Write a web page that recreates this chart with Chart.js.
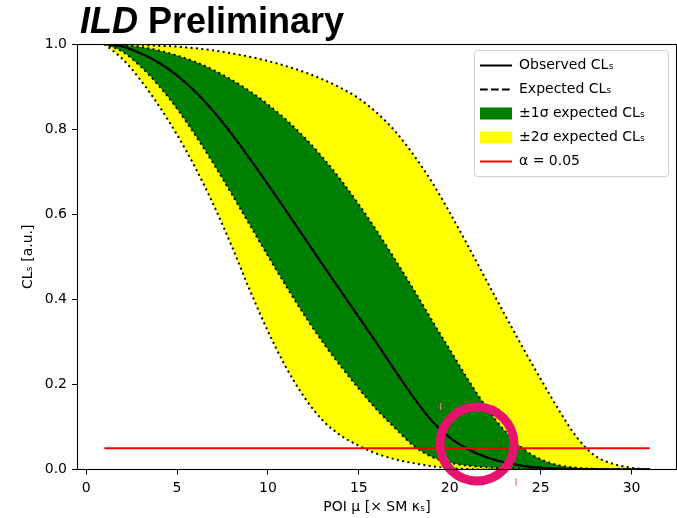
<!DOCTYPE html>
<html><head><meta charset="utf-8">
<script src="https://cdn.jsdelivr.net/npm/chart.js@4/dist/chart.umd.min.js"></script>
<style>
html,body{margin:0;padding:0;background:#fff;}
#wrap{position:relative;width:677px;height:518px;overflow:hidden;}
#title{position:absolute;left:80px;top:3px;font:bold 36px/36px "Liberation Sans",Arial,sans-serif;color:#000;white-space:nowrap;}
canvas{position:absolute;left:0;top:0;}
</style></head><body>
<div id="wrap"><canvas id="c" width="677" height="518"></canvas><div id="title"><i>ILD</i> Preliminary</div></div>
<script>
// ---- data ----
const poi = [1,2,3,4,5,6,7,8,9,10,11,12,13,14,15,16,17,18,19,20,21,22,23,24,25,26,27,28,29,30,31];
const observedCLs = [1.000,0.994,0.978,0.956,0.926,0.888,0.842,0.789,0.731,0.670,0.608,0.545,0.482,0.420,0.358,0.296,0.232,0.170,0.115,0.075,0.048,0.029,0.017,0.009,0.004,0.002,0.001,0.0004,0.0001,0,0];
const expectedCLs = [1.000,0.994,0.978,0.956,0.926,0.888,0.842,0.789,0.731,0.670,0.608,0.545,0.482,0.420,0.358,0.296,0.232,0.170,0.115,0.075,0.048,0.029,0.017,0.009,0.004,0.002,0.001,0.0004,0.0001,0,0];
const plus1Sigma = [1.000,0.998,0.993,0.985,0.973,0.958,0.939,0.916,0.889,0.858,0.822,0.781,0.734,0.681,0.623,0.560,0.493,0.424,0.352,0.282,0.212,0.147,0.092,0.050,0.024,0.010,0.004,0.0015,0.0005,0.0001,0];
const minus1Sigma = [1.000,0.982,0.947,0.902,0.848,0.786,0.719,0.648,0.575,0.502,0.431,0.363,0.300,0.243,0.190,0.140,0.097,0.056,0.030,0.016,0.009,0.005,0.003,0.0015,0.0007,0.0003,0.0001,0,0,0,0];
const plus2Sigma = [1.000,0.999,0.998,0.996,0.994,0.990,0.985,0.978,0.970,0.960,0.948,0.934,0.917,0.897,0.872,0.838,0.795,0.740,0.677,0.604,0.526,0.446,0.366,0.288,0.213,0.140,0.075,0.032,0.013,0.004,0];
const minus2Sigma = [1.000,0.965,0.915,0.855,0.787,0.710,0.623,0.526,0.422,0.325,0.240,0.170,0.116,0.080,0.056,0.037,0.024,0.015,0.008,0.003,0.001,0,0,0,0,0,0,0,0,0,0];
const alphaX = [1, 31];
const alphaY = [0.05, 0.05];
const circleX = [21.5];
const circleY = [0.06];
const markX = [19.5, 23.65];
const markYTop = [0.156, -0.020];
const markYBottom = [0.140, -0.038];
const xTicks = [0,5,10,15,20,25,30];
const yTicks = [0,0.2,0.4,0.6,0.8,1.0];
const legendTexts = ['Observed CLₛ','Expected CLₛ','±1σ expected CLₛ','±2σ expected CLₛ','α = 0.05'];

const toXY = (xs, ys) => xs.map((x, i) => ({x: x, y: ys[i]}));
// short vertical mark segments, separated by a gap (null) so they are not joined
const markData = [];
markX.forEach((x, i) => {
  if (i > 0) markData.push({x: x, y: null});
  markData.push({x: x, y: markYTop[i]}, {x: x, y: markYBottom[i]});
});

Chart.defaults.font.family = "'DejaVu Sans', sans-serif";
Chart.defaults.font.size = 14;
Chart.defaults.color = '#000';

const dotted = {borderColor:'#000', borderWidth:2, borderDash:[2,3.4], borderCapStyle:'butt', pointRadius:0, cubicInterpolationMode:'monotone'};

const legendItems = [
  {text: legendTexts[0], pointStyle:'line', strokeStyle:'#000', fillStyle:'#000', lineWidth:2, lineDash:[], hidden:false, datasetIndex:3},
  {text: legendTexts[1], pointStyle:'line', strokeStyle:'#000', fillStyle:'#000', lineWidth:2, lineDash:[7.7,3.3], hidden:false, datasetIndex:4},
  {text: legendTexts[2], pointStyle:'rect', strokeStyle:'#008000', fillStyle:'#008000', lineWidth:0, lineDash:[], hidden:false, datasetIndex:5},
  {text: legendTexts[3], pointStyle:'rect', strokeStyle:'#ffff00', fillStyle:'#ffff00', lineWidth:0, lineDash:[], hidden:false, datasetIndex:7},
  {text: legendTexts[4], pointStyle:'line', strokeStyle:'#ff0000', fillStyle:'#ff0000', lineWidth:2, lineDash:[], hidden:false, datasetIndex:2}
];

const framePlugin = {
  id: 'frame',
  afterLayout(chart) {
    const lg = chart.legend, ca = chart.chartArea;
    if (!lg) return;
    lg.left = ca.right - 207; lg.right = ca.right;
    lg.top = ca.top + 4.5; lg.bottom = ca.top + 150;
    lg.width = lg.right - lg.left; lg.height = lg.bottom - lg.top;
  },
  beforeDraw(chart) {
    const ctx = chart.ctx, ca = chart.chartArea;
    ctx.save();
    const x0 = ca.right - 203, y0 = ca.top + 6;
    ctx.beginPath();
    ctx.roundRect(x0 + 0.5, y0 + 0.5, 194, 126, 3);
    ctx.fillStyle = 'rgba(255,255,255,0.8)'; ctx.fill();
    ctx.strokeStyle = '#d0d0d0'; ctx.lineWidth = 1; ctx.stroke();
    ctx.restore();
  },
  afterDatasetsDraw(chart) {
    const ctx = chart.ctx, ca = chart.chartArea;
    ctx.save();
    ctx.strokeStyle = '#000'; ctx.lineWidth = 1.1;
    ctx.strokeRect(ca.left + 0.5, ca.top + 0.5, ca.right - ca.left - 1, Math.floor(ca.bottom) - ca.top);
    ctx.restore();
  }
};

new Chart(document.getElementById('c'), {
  type: 'line',
  data: {
    datasets: [
      {label:'circle', data: toXY(circleX, circleY), showLine:false, pointRadius:37, pointHoverRadius:37, pointBorderWidth:9, pointBorderColor:'#e8136e', pointBackgroundColor:'rgba(0,0,0,0)', clip:false},
      {label:'marks', data: markData, showLine:true, spanGaps:false, borderColor:'#f06aa0', borderWidth:1.2, pointRadius:0, clip:false},
      {label: legendTexts[4], data: toXY(alphaX, alphaY), borderColor:'#ff0000', borderWidth:2, pointRadius:0},
      {label: legendTexts[0], data: toXY(poi, observedCLs), borderColor:'#000', borderWidth:2, pointRadius:0, cubicInterpolationMode:'monotone'},
      {label: legendTexts[1], data: toXY(poi, expectedCLs), borderColor:'#000', borderWidth:2, borderDash:[7.7,3.3], pointRadius:0, cubicInterpolationMode:'monotone'},
      Object.assign({label: legendTexts[2], data: toXY(poi, plus1Sigma), fill:'+1', backgroundColor:'#008000'}, dotted),
      Object.assign({label: '-1σ', data: toXY(poi, minus1Sigma), fill:false}, dotted),
      Object.assign({label: legendTexts[3], data: toXY(poi, plus2Sigma), fill:'+1', backgroundColor:'#ffff00'}, dotted),
      Object.assign({label: '-2σ', data: toXY(poi, minus2Sigma), fill:false}, dotted)
    ]
  },
  options: {
    responsive: false,
    animation: false,
    events: [],
    layout: {autoPadding: false, padding: {top:44, right:0, bottom:0, left:0}},
    plugins: {
      filler: {drawTime: 'beforeDatasetsDraw'},
      tooltip: {enabled:false},
      title: {display:false},
      legend: {
        position: 'chartArea',
        fullSize: false,
        align: 'start',
        labels: {
          usePointStyle: true, pointStyleWidth: 32, boxHeight: 12, padding: 10, color:'#000',
          font: {size:14},
          generateLabels: () => legendItems
        }
      }
    },
    scales: {
      x: {
        type: 'linear', min: -0.5, max: 32.5,
        afterBuildTicks: s => { s.ticks = xTicks.map(v => ({value: v})); },
        afterFit: s => { s.height = 48.5; },
        ticks: {color:'#000', padding:5, font:{size:14}, callback: v => String(v)},
        grid: {drawOnChartArea:false, drawTicks:true, tickLength:5, tickColor:'#000', color:'#000'},
        border: {display:true, color:'#000', width:1},
        title: {display:true, text:'POI μ [× SM κₛ]', color:'#000', font:{size:14}, padding:{top:0, bottom:2}}
      },
      y: {
        type: 'linear', min: 0, max: 1,
        afterBuildTicks: s => { s.ticks = yTicks.map(v => ({value: v})); },
        afterFit: s => { s.width = 77; },
        ticks: {color:'#000', padding:5, font:{size:14}, callback: v => Number(v).toFixed(1)},
        grid: {drawOnChartArea:false, drawTicks:true, tickLength:5, tickColor:'#000', color:'#000'},
        border: {display:true, color:'#000', width:1},
        title: {display:true, text:'CLₛ [a.u.]', color:'#000', font:{size:14}, padding:{top:20, bottom:0}}
      }
    }
  },
  plugins: [framePlugin]
});
</script>
</body></html>
